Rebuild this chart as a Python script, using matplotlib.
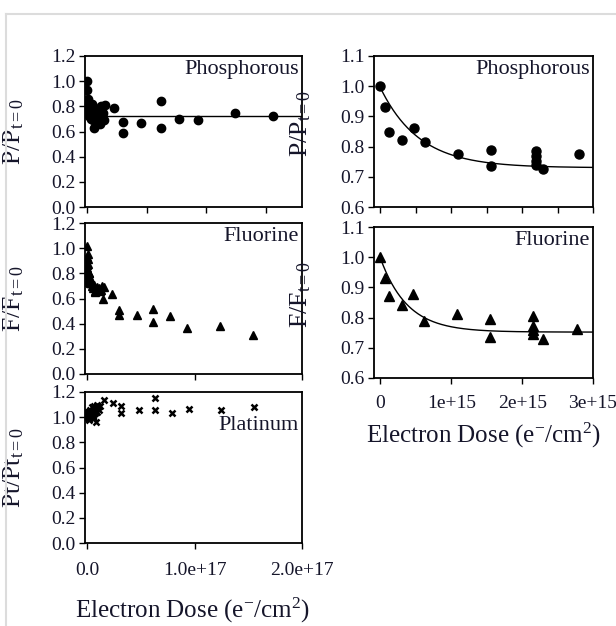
import numpy as np
import matplotlib
matplotlib.use("Agg")
import matplotlib.pyplot as plt
from matplotlib.lines import Line2D

plt.rcParams['font.family'] = ['Liberation Serif', 'DejaVu Serif']
plt.rcParams['mathtext.fontset'] = 'custom'
plt.rcParams['mathtext.rm'] = 'Liberation Serif'
plt.rcParams['mathtext.it'] = 'Liberation Serif:italic'

TXT = '#15152a'

# ---------------- data (dose in e-/cm^2) ----------------
# Left: Phosphorous, wide dose range (units of 1e17)
p_left_dose = [0.0, 0.0007, 0.0012, 0.0031, 0.0047, 0.0063, 0.0109, 0.0156, 0.0156,
               0.0219, 0.0219, 0.0219, 0.0219, 0.023, 0.028,
               0.012, 0.02, 0.03, 0.035, 0.045, 0.047, 0.055, 0.058, 0.06, 0.07,
               0.075, 0.085, 0.09, 0.10, 0.105, 0.116, 0.116, 0.125, 0.13, 0.141,
               0.152, 0.229, 0.304, 0.304, 0.454, 0.622, 0.622, 0.774, 0.932,
               1.24, 1.554]
p_left_val = [1.00, 0.93, 0.85, 0.82, 0.86, 0.815, 0.775, 0.79, 0.74,
              0.78, 0.77, 0.75, 0.74, 0.73, 0.77,
              0.80, 0.72, 0.70, 0.76, 0.82, 0.69, 0.63, 0.745, 0.79, 0.71,
              0.74, 0.68, 0.75, 0.70, 0.66, 0.745, 0.80, 0.72, 0.75, 0.69,
              0.81, 0.784, 0.675, 0.588, 0.667, 0.845, 0.628, 0.702, 0.694,
              0.75, 0.726]
p_left_level = 0.726

# Left: Fluorine
f_left_dose = [0.0, 0.0007, 0.0012, 0.0031, 0.0046, 0.0062, 0.0108, 0.0155, 0.0155,
               0.0216, 0.0216, 0.0216, 0.0216, 0.0229, 0.0278,
               0.005, 0.01, 0.018, 0.03, 0.037, 0.045, 0.055, 0.065, 0.07, 0.075,
               0.083, 0.09, 0.10, 0.11, 0.12, 0.129, 0.14, 0.145, 0.157, 0.228,
               0.298, 0.298, 0.461, 0.614, 0.614, 0.774, 0.928, 1.235, 1.548]
f_left_val = [1.015, 0.93, 0.87, 0.84, 0.875, 0.79, 0.81, 0.80, 0.735,
              0.805, 0.77, 0.76, 0.746, 0.73, 0.76,
              0.95, 0.91, 0.75, 0.72, 0.726, 0.70, 0.68, 0.71, 0.66, 0.65,
              0.657, 0.69, 0.67, 0.68, 0.66, 0.67, 0.70, 0.60, 0.694, 0.639,
              0.507, 0.465, 0.467, 0.520, 0.412, 0.459, 0.367, 0.380, 0.306]

# Left: Platinum
pt_dose = [0.0, 0.002, 0.004, 0.006, 0.008, 0.01, 0.012, 0.015, 0.018, 0.02,
           0.022, 0.025, 0.028, 0.03, 0.035, 0.04, 0.045, 0.05, 0.055, 0.06,
           0.065, 0.07, 0.075, 0.08, 0.085, 0.09, 0.095, 0.10, 0.11, 0.12,
           0.159, 0.237, 0.313, 0.313, 0.482, 0.63, 0.63, 0.79, 0.952, 1.25, 1.557]
pt_val = [1.00, 1.02, 0.99, 1.03, 1.01, 1.00, 1.04, 1.02, 0.98, 1.01,
          1.05, 1.03, 1.00, 1.06, 1.02, 1.04, 1.08, 1.01, 1.06, 0.99,
          1.09, 1.05, 1.03, 0.96, 1.07, 1.10, 1.04, 1.08, 1.06, 1.09,
          1.134, 1.113, 1.086, 1.030, 1.054, 1.152, 1.054, 1.030, 1.068, 1.054, 1.081]

# Right: low-dose detail (units of 1e15)
p_right_dose = [0.0, 0.06, 0.12, 0.31, 0.47, 0.63, 1.09, 1.56, 1.56,
                2.19, 2.19, 2.19, 2.19, 2.30, 2.80]
p_right_val = [1.00, 0.931, 0.847, 0.823, 0.862, 0.815, 0.775, 0.788, 0.737,
               0.784, 0.768, 0.752, 0.740, 0.727, 0.774]
p_fit = dict(plateau=0.73, amp=0.265, decay=0.55)

f_right_dose = [0.0, 0.07, 0.12, 0.31, 0.46, 0.615, 1.08, 1.545, 1.545,
                2.16, 2.16, 2.16, 2.16, 2.29, 2.78]
f_right_val = [1.00, 0.932, 0.871, 0.842, 0.877, 0.790, 0.812, 0.797, 0.735,
               0.805, 0.771, 0.759, 0.746, 0.730, 0.762]
f_fit = dict(plateau=0.752, amp=0.245, decay=0.38)

# ---------------- figure ----------------
W, H = 616, 626
fig = plt.figure(figsize=(W / 100, H / 100), dpi=100)
fig.patch.set_facecolor('white')

def box(x0, y0, x1, y1):
    return [x0 / W, 1 - y1 / H, (x1 - x0) / W, (y1 - y0) / H]

ax_p = fig.add_axes(box(85, 56, 302, 207))
ax_f = fig.add_axes(box(85, 223, 302, 374))
ax_pt = fig.add_axes(box(85, 392, 302, 543))
ax_pr = fig.add_axes(box(374, 56, 593, 207))
ax_fr = fig.add_axes(box(374, 227, 593, 378))

def style(ax):
    for s in ax.spines.values():
        s.set_linewidth(1.3)
        s.set_color('black')
    ax.tick_params(direction='out', length=4, width=1.0, color='black',
                   labelsize=14, labelcolor=TXT, pad=3)

for ax in (ax_p, ax_f, ax_pt, ax_pr, ax_fr):
    style(ax)

E17 = 1e17
E15 = 1e15
ms_c = 6

# Phosphorous left
ax_p.plot(np.array(p_left_dose) * E17, p_left_val, 'o', color='black', ms=ms_c, mec='black')
ax_p.plot([0, 1.8 * E17], [p_left_level, p_left_level], color='black', lw=1.0)
ax_p.set_xlim(-0.017 * E17, 1.8 * E17)
ax_p.set_ylim(0, 1.2)
ax_p.set_xticks(np.array([0, 0.5, 1.0, 1.5]) * E17)
ax_p.set_xticklabels([])

# Fluorine left
ax_f.plot(np.array(f_left_dose) * E17, f_left_val, '^', color='black', ms=ms_c, mec='black')
ax_f.set_xlim(-0.02 * E17, 2.0 * E17)
ax_f.set_ylim(0, 1.2)
ax_f.set_xticks(np.array([0, 1.0, 2.0]) * E17)
ax_f.set_xticklabels([])

# Platinum left
ax_pt.plot(np.array(pt_dose) * E17, pt_val, 'x', color='black', ms=5, mew=1.8)
ax_pt.set_xlim(-0.02 * E17, 2.0 * E17)
ax_pt.set_ylim(0, 1.2)
ax_pt.set_xticks(np.array([0, 1.0, 2.0]) * E17)
ax_pt.set_xticklabels(['0.0', '1.0e+17', '2.0e+17'])
ax_pt.tick_params(axis='x', pad=10)

for ax in (ax_p, ax_f, ax_pt):
    ax.set_yticks([0, 0.2, 0.4, 0.6, 0.8, 1.0, 1.2])
    ax.set_yticklabels([f'{v:.1f}' for v in [0, 0.2, 0.4, 0.6, 0.8, 1.0, 1.2]])

# Right panels
xfit = np.linspace(0, 3.0, 300)
ax_pr.plot(np.array(p_right_dose) * E15, p_right_val, 'o', color='black', ms=6.5, mec='black')
ax_pr.plot(xfit * E15, p_fit['plateau'] + p_fit['amp'] * np.exp(-xfit / p_fit['decay']),
           color='black', lw=1.0)
ax_fr.plot(np.array(f_right_dose) * E15, f_right_val, '^', color='black', ms=6.5, mec='black')
ax_fr.plot(xfit * E15, f_fit['plateau'] + f_fit['amp'] * np.exp(-xfit / f_fit['decay']),
           color='black', lw=1.0)

for ax in (ax_pr, ax_fr):
    ax.set_xlim(-0.09 * E15, 3.0 * E15)
    ax.set_ylim(0.6, 1.1)
    yt = [0.6, 0.7, 0.8, 0.9, 1.0, 1.1]
    ax.set_yticks(yt)
    ax.set_yticklabels([f'{v:.1f}' for v in yt])

ax_pr.set_xticks(np.array([0, 0.5, 1.0, 1.5, 2.0, 2.5, 3.0]) * E15)
ax_pr.set_xticklabels([])
ax_fr.set_xticks(np.array([0, 1, 2, 3]) * E15)
ax_fr.set_xticklabels(['0', '1e+15', '2e+15', '3e+15'])
ax_fr.tick_params(axis='x', pad=8)

# panel labels
lab_fs = 16
ax_p.text(0.985, 0.975, 'Phosphorous', transform=ax_p.transAxes, ha='right', va='top',
          fontsize=lab_fs, color=TXT)
ax_f.text(0.985, 0.975, 'Fluorine', transform=ax_f.transAxes, ha='right', va='top',
          fontsize=lab_fs, color=TXT)
ax_pt.text(0.985, 0.78, 'Platinum', transform=ax_pt.transAxes, ha='right', va='center',
           fontsize=lab_fs, color=TXT)
ax_pr.text(0.985, 0.975, 'Phosphorous', transform=ax_pr.transAxes, ha='right', va='top',
           fontsize=lab_fs, color=TXT)
ax_fr.text(0.985, 0.975, 'Fluorine', transform=ax_fr.transAxes, ha='right', va='top',
           fontsize=lab_fs, color=TXT)

# y labels
yl_fs = 18.5
ax_p.set_ylabel(r'P/P$_{\mathrm{t=0}}$', fontsize=yl_fs, color=TXT)
ax_f.set_ylabel(r'F/F$_{\mathrm{t=0}}$', fontsize=yl_fs, color=TXT)
ax_pt.set_ylabel(r'Pt/Pt$_{\mathrm{t=0}}$', fontsize=yl_fs, color=TXT)
ax_pr.set_ylabel(r'P/P$_{\mathrm{t=0}}$', fontsize=yl_fs, color=TXT)
ax_fr.set_ylabel(r'F/F$_{\mathrm{t=0}}$', fontsize=yl_fs, color=TXT)
for ax in (ax_p, ax_f, ax_pt):
    ax.yaxis.set_label_coords(-0.27, 0.5)
for ax in (ax_pr, ax_fr):
    ax.yaxis.set_label_coords(-0.28, 0.55)

# x labels
xl = r'Electron Dose (e$^{\mathrm{-}}$/cm$^{\mathrm{2}}$)'
fig.text(192 / W, 1 - 610 / H, xl, ha='center', va='center', fontsize=18, color=TXT)
fig.text(483 / W, 1 - 435 / H, xl, ha='center', va='center', fontsize=18, color=TXT)

# light frame
fig.add_artist(Line2D([5.5 / W, 5.5 / W], [0, 1 - 13.5 / H], transform=fig.transFigure,
                      color='#dcdcdc', lw=1.5))
fig.add_artist(Line2D([5.5 / W, 1], [1 - 13.5 / H, 1 - 13.5 / H], transform=fig.transFigure,
                      color='#dcdcdc', lw=1.5))

fig.savefig('out.png', dpi=100)
